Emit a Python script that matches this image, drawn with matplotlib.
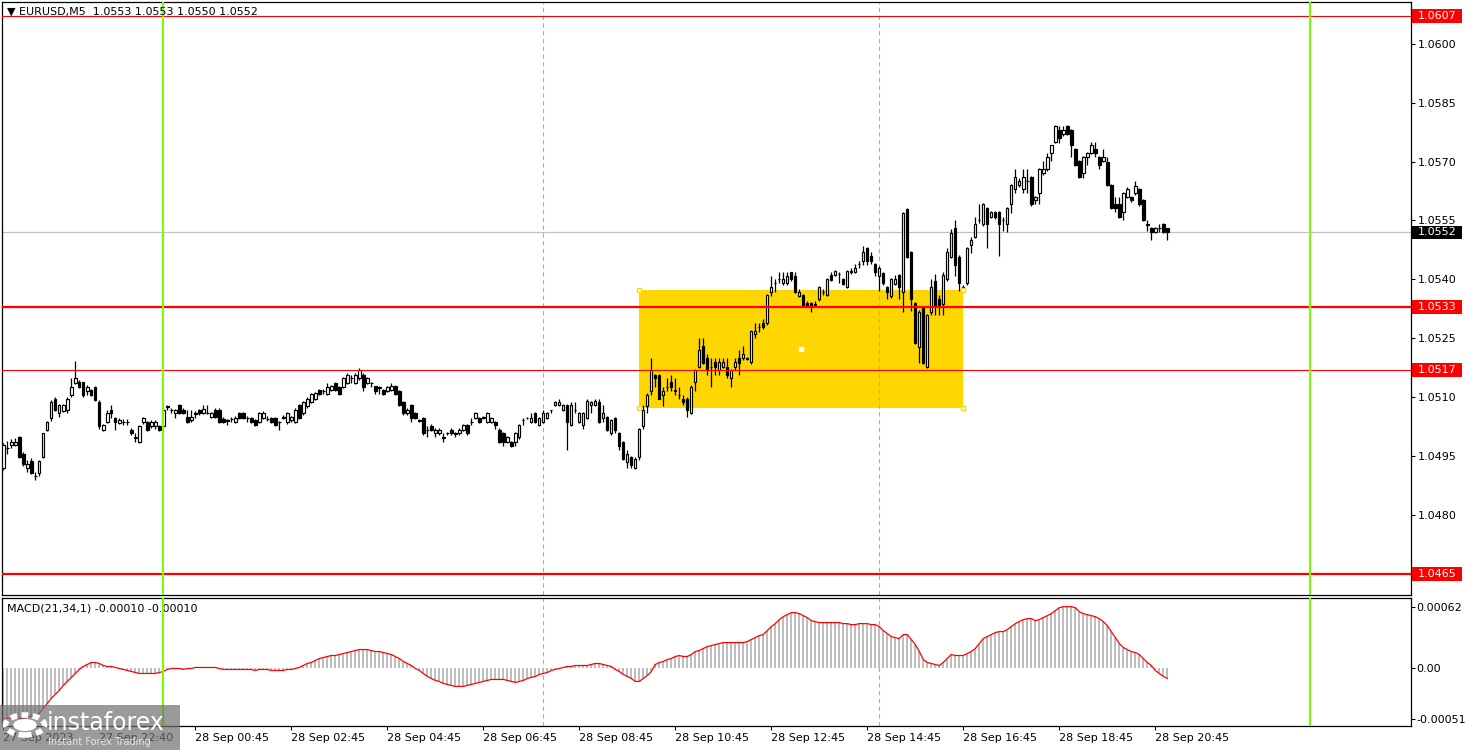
import matplotlib
matplotlib.use("Agg")
import matplotlib.pyplot as plt
import numpy as np
from matplotlib.patches import Rectangle, Circle

plt.rcParams['font.family'] = ['DejaVu Sans']

# EURUSD M5 candles, values in pips above 1.0400
BASE = 1.0400
opens = [
    91.9, 97.0, 97.8, 97.8, 99.8, 95.7, 91.9, 93.8, 90.0, 90.8,
    94.7, 101.8, 104.8, 109.7, 105.9, 106.5, 106.7, 110.5, 113.7, 114.0,
    113.8, 111.6, 111.8, 112.6, 108.8, 101.8, 103.7, 106.9, 104.8, 103.5,
    103.7, 103.8, 101.8, 99.8, 98.7, 103.7, 103.7, 102.6, 102.6, 102.6,
    102.6, 107.6, 106.9, 106.0, 108.0, 106.9, 105.0, 104.2, 105.9, 106.7,
    106.0, 106.0, 105.0, 106.9, 106.9, 104.6, 104.2, 104.6, 103.7, 106.0,
    106.0, 104.8, 104.8, 104.2, 103.7, 104.8, 104.5, 104.8, 104.8, 103.7,
    104.8, 103.7, 104.2, 103.7, 108.0, 105.9, 107.7, 108.8, 109.7, 111.8,
    111.6, 110.8, 111.8, 113.7, 112.6, 112.6, 113.7, 114.8, 113.7, 114.8,
    115.8, 113.7, 113.7, 112.8, 112.6, 111.8, 111.6, 111.8, 112.8, 111.6,
    108.8, 105.9, 108.0, 105.9, 104.2, 104.8, 101.8, 102.8, 100.8, 100.8,
    99.8, 100.8, 101.8, 100.8, 100.8, 101.8, 102.9, 103.7, 104.8, 104.8,
    104.8, 103.7, 103.7, 103.7, 101.8, 100.8, 98.7, 98.7, 98.7, 99.8,
    104.2, 104.8, 103.7, 105.9, 102.9, 103.7, 104.8, 106.7, 108.0, 108.0,
    106.9, 108.0, 102.9, 106.9, 103.7, 102.9, 104.8, 108.0, 108.0, 108.8,
    104.8, 105.0, 100.8, 104.8, 100.8, 98.7, 93.6, 94.8, 91.9, 94.7,
    102.8, 107.9, 111.7, 115.8, 115.8, 110.7, 112.6, 113.8, 111.8, 110.7,
    109.7, 109.7, 105.9, 113.8, 117.8, 123.0, 119.9, 117.8, 118.9, 116.9,
    117.8, 117.8, 114.8, 117.8, 119.9, 119.9, 119.9, 118.9, 126.0, 128.0,
    128.8, 128.8, 136.9, 139.0, 140.0, 139.0, 139.0, 141.9, 141.0, 135.8,
    136.0, 133.9, 133.9, 133.6, 134.9, 136.7, 136.0, 141.1, 141.1, 141.5,
    140.0, 138.0, 142.1, 141.9, 143.9, 144.7, 147.9, 145.9, 143.9, 140.8,
    141.7, 138.0, 135.7, 138.8, 141.1, 136.9, 158.0, 147.0, 133.9, 122.9,
    132.9, 117.8, 131.8, 139.5, 134.9, 133.7, 140.0, 145.8, 153.0, 145.8,
    137.5, 139.0, 148.8, 150.9, 155.1, 154.0, 158.1, 156.0, 157.1, 157.1,
    155.1, 154.0, 159.1, 162.9, 164.1, 162.9, 165.0, 166.0, 160.1, 161.9,
    167.0, 168.0, 172.1, 175.0, 178.0, 177.0, 179.0, 178.0, 173.1, 170.1,
    167.0, 171.2, 172.1, 173.1, 171.1, 170.1, 170.0, 164.0, 159.1, 159.1,
    157.1, 161.1, 160.9, 161.9, 162.9, 160.1, 154.0, 153.0, 152.0, 153.0,
    154.0, 153.0]
highs = [
    98.5, 99.0, 99.5, 99.7, 100.2, 96.0, 94.0, 94.5, 91.0, 94.0,
    101.0, 104.0, 109.2, 110.0, 108.3, 108.3, 110.0, 114.8, 119.2, 114.3,
    114.0, 113.2, 112.0, 113.0, 109.2, 103.2, 106.7, 108.0, 105.0, 104.8,
    104.5, 104.5, 102.2, 100.8, 102.9, 104.9, 104.0, 104.2, 104.2, 103.0,
    107.2, 108.0, 107.3, 107.0, 108.3, 107.2, 106.7, 106.7, 106.5, 107.0,
    108.0, 108.0, 106.2, 107.2, 107.2, 104.9, 104.6, 105.0, 105.2, 106.2,
    106.2, 105.2, 105.0, 104.4, 106.2, 106.5, 105.2, 105.0, 105.0, 104.0,
    105.4, 106.2, 105.3, 107.2, 108.3, 109.1, 110.0, 111.0, 111.4, 112.0,
    112.0, 113.7, 113.2, 114.0, 112.9, 115.1, 116.1, 115.8, 116.1, 117.5,
    116.1, 115.1, 114.0, 113.0, 112.9, 112.0, 112.9, 113.7, 113.1, 111.9,
    109.1, 107.2, 108.3, 106.2, 104.6, 105.1, 102.6, 103.1, 102.1, 102.1,
    100.8, 101.2, 102.1, 101.1, 102.1, 103.2, 103.2, 104.8, 106.2, 105.1,
    105.2, 106.2, 105.1, 104.0, 102.1, 101.1, 100.1, 99.0, 101.1, 103.2,
    104.8, 105.1, 105.9, 106.2, 105.1, 106.9, 106.2, 106.9, 109.1, 109.5,
    108.3, 108.3, 108.8, 108.8, 106.2, 106.2, 109.7, 109.1, 109.7, 109.7,
    108.0, 105.3, 104.5, 105.1, 101.1, 99.0, 96.7, 95.1, 94.7, 102.2,
    108.0, 111.0, 119.9, 116.0, 116.0, 112.7, 114.8, 115.8, 114.8, 112.7,
    110.7, 110.2, 113.2, 117.2, 125.0, 125.0, 121.0, 119.9, 119.9, 119.9,
    119.9, 119.9, 117.2, 119.9, 122.0, 123.0, 120.2, 127.1, 128.8, 128.8,
    130.0, 136.3, 141.0, 140.0, 141.9, 141.9, 141.9, 142.0, 141.9, 137.5,
    136.3, 134.4, 134.2, 134.4, 138.3, 137.5, 140.3, 141.9, 142.4, 142.0,
    140.3, 142.4, 143.0, 143.9, 144.7, 148.5, 148.2, 147.0, 144.2, 143.3,
    142.0, 138.3, 140.3, 141.2, 141.4, 157.2, 158.3, 147.3, 134.2, 132.1,
    133.2, 131.2, 140.0, 141.5, 136.0, 142.0, 148.0, 152.8, 155.0, 146.1,
    138.5, 148.2, 150.9, 156.0, 159.1, 159.4, 158.4, 157.4, 157.4, 157.4,
    156.0, 158.4, 164.3, 168.0, 165.9, 168.0, 168.0, 166.3, 161.2, 168.3,
    170.1, 172.1, 174.2, 179.3, 179.0, 179.0, 179.3, 178.3, 173.4, 170.4,
    171.4, 172.4, 175.0, 175.0, 171.4, 173.1, 171.1, 164.3, 161.1, 161.1,
    162.2, 163.4, 161.2, 165.0, 163.2, 160.4, 155.1, 153.3, 153.4, 154.0,
    154.3, 153.0]
lows = [
    91.5, 95.7, 97.0, 97.5, 94.5, 92.5, 91.0, 90.5, 88.9, 89.9,
    94.5, 101.5, 104.0, 106.5, 105.0, 106.2, 106.0, 110.2, 113.5, 112.3,
    110.2, 110.5, 110.4, 109.0, 102.0, 101.5, 103.5, 104.8, 101.8, 103.2,
    102.9, 103.0, 100.5, 98.7, 98.5, 103.3, 101.5, 102.3, 102.0, 101.5,
    102.4, 106.7, 106.0, 104.8, 105.8, 105.8, 103.5, 103.7, 104.8, 105.6,
    105.8, 105.8, 104.7, 104.8, 103.5, 103.4, 102.9, 103.8, 103.5, 104.6,
    104.5, 103.7, 103.4, 102.6, 103.5, 104.5, 104.0, 103.4, 102.6, 101.8,
    104.4, 103.3, 103.7, 103.5, 104.5, 105.6, 107.4, 108.5, 109.4, 110.5,
    110.8, 110.5, 111.5, 111.5, 110.5, 112.3, 113.4, 113.7, 113.4, 114.5,
    111.6, 113.4, 112.6, 110.8, 110.8, 110.5, 111.3, 111.5, 110.5, 107.7,
    105.6, 105.6, 103.7, 104.5, 103.8, 100.5, 99.8, 101.5, 99.8, 100.5,
    98.7, 100.5, 100.5, 99.8, 100.5, 101.5, 100.5, 102.9, 104.5, 103.4,
    104.5, 103.4, 103.4, 102.0, 98.4, 97.6, 98.4, 97.3, 97.6, 99.5,
    102.9, 104.5, 103.4, 103.4, 102.6, 103.4, 104.5, 105.9, 107.7, 107.7,
    106.6, 96.7, 102.6, 105.9, 103.4, 102.0, 104.5, 105.9, 107.7, 103.4,
    103.7, 101.5, 100.5, 100.8, 96.7, 94.1, 91.9, 92.0, 91.7, 94.0,
    102.0, 105.9, 110.7, 112.7, 109.5, 107.9, 111.7, 111.7, 110.7, 109.7,
    108.0, 104.9, 105.7, 111.7, 117.5, 118.5, 115.8, 112.7, 115.8, 115.8,
    117.5, 114.8, 112.7, 116.9, 115.8, 119.6, 119.5, 118.6, 125.0, 126.7,
    127.5, 128.5, 135.8, 136.9, 139.0, 138.7, 138.7, 139.7, 136.6, 135.5,
    132.9, 132.9, 131.8, 133.0, 134.6, 136.0, 135.7, 139.6, 140.8, 139.0,
    138.5, 137.7, 141.5, 141.6, 143.0, 143.6, 143.6, 143.9, 141.0, 137.0,
    138.7, 134.9, 135.4, 138.5, 135.0, 131.8, 145.5, 132.0, 123.6, 118.7,
    118.5, 117.5, 131.0, 131.0, 131.0, 131.0, 139.7, 145.5, 141.0, 137.0,
    137.2, 138.7, 146.7, 150.6, 154.3, 153.7, 147.9, 155.7, 155.5, 146.0,
    152.2, 152.0, 157.0, 161.9, 163.5, 161.9, 161.9, 158.8, 159.1, 159.1,
    166.7, 167.7, 170.1, 174.7, 174.7, 176.5, 176.7, 171.2, 168.8, 165.7,
    165.7, 169.1, 171.8, 171.2, 168.0, 169.8, 163.7, 157.8, 157.1, 155.7,
    155.1, 160.8, 159.8, 161.6, 158.8, 154.8, 152.2, 150.0, 151.7, 152.0,
    151.7, 150.0]
closes = [
    97.8, 97.2, 98.7, 98.7, 94.8, 93.0, 93.0, 90.8, 90.0, 93.8,
    100.8, 103.7, 108.8, 106.7, 108.0, 108.0, 109.7, 112.6, 114.8, 112.6,
    110.5, 112.6, 110.7, 109.4, 102.6, 102.9, 106.0, 106.0, 103.7, 104.2,
    103.8, 103.7, 100.8, 99.7, 102.6, 104.8, 101.8, 103.7, 103.7, 101.8,
    106.9, 107.7, 106.8, 106.7, 106.0, 106.0, 103.7, 105.0, 105.8, 105.9,
    107.1, 106.1, 106.0, 105.0, 103.7, 103.7, 104.1, 104.5, 104.8, 104.8,
    104.8, 104.7, 103.7, 102.9, 105.9, 106.0, 104.6, 103.7, 102.9, 103.6,
    104.9, 105.9, 105.0, 106.9, 104.8, 108.8, 109.7, 110.8, 111.0, 110.8,
    111.7, 112.6, 112.8, 111.8, 110.8, 114.8, 115.8, 114.9, 115.8, 116.9,
    112.6, 114.8, 113.6, 111.6, 112.5, 110.8, 112.6, 112.8, 110.8, 108.0,
    105.9, 106.9, 104.8, 104.8, 104.1, 100.8, 101.7, 101.8, 101.8, 101.8,
    99.7, 100.9, 100.8, 100.7, 101.8, 102.9, 100.8, 103.8, 105.9, 103.7,
    104.9, 105.9, 104.8, 102.9, 98.7, 98.7, 99.8, 97.6, 100.8, 102.9,
    104.3, 104.7, 104.8, 103.7, 104.8, 105.9, 105.9, 106.8, 108.8, 108.8,
    108.0, 103.7, 108.0, 106.8, 105.9, 105.9, 109.0, 108.8, 109.0, 103.7,
    106.0, 101.8, 104.2, 101.8, 97.6, 94.4, 95.7, 92.7, 94.4, 101.9,
    106.9, 110.7, 116.9, 114.8, 109.7, 111.7, 112.7, 112.7, 111.7, 110.6,
    108.9, 106.9, 112.7, 116.9, 122.0, 118.8, 116.9, 117.7, 117.8, 118.9,
    118.9, 115.8, 116.9, 118.9, 118.8, 120.9, 119.8, 126.8, 126.8, 127.9,
    127.8, 136.0, 138.0, 139.1, 140.1, 140.0, 141.0, 140.0, 136.9, 136.9,
    133.2, 133.2, 133.0, 133.7, 138.0, 136.9, 140.0, 139.9, 142.1, 141.4,
    138.8, 142.1, 142.0, 143.0, 144.0, 146.9, 144.7, 144.7, 141.9, 143.0,
    139.0, 136.9, 140.0, 140.0, 138.0, 156.9, 145.8, 134.9, 123.9, 131.8,
    118.8, 130.9, 138.0, 133.5, 133.5, 141.1, 146.9, 151.9, 143.6, 139.0,
    138.2, 147.9, 150.1, 154.0, 155.2, 159.1, 154.0, 157.1, 156.0, 154.0,
    155.2, 158.1, 164.0, 166.0, 165.0, 166.0, 165.1, 159.1, 160.9, 168.0,
    168.0, 171.2, 174.2, 179.0, 176.1, 178.0, 177.0, 174.2, 169.1, 166.0,
    171.1, 172.1, 174.2, 172.1, 169.1, 171.1, 164.0, 158.1, 158.1, 156.0,
    161.9, 162.9, 160.1, 163.9, 159.1, 155.1, 153.9, 152.0, 153.0, 153.1,
    152.0, 152.0]

# MACD(21,34,1) main line, units of 0.00001
macd = [
    -51, -50, -50, -50, -50, -50, -49, -48, -47, -45,
    -40, -35, -30, -26, -22, -17, -13, -9, -5, -1,
    2, 4, 6, 6, 5, 3, 2, 2, 1, 0,
    -1, -2, -3, -4, -5, -5, -5, -5, -5, -4,
    -3, -1, 0, 0, 0, -1, 0, 0, 1, 1,
    1, 1, 1, 1, 0, -1, -1, -1, -1, -1,
    -1, -1, -1, -2, -1, -1, -1, -2, -2, -2,
    -2, -1, -1, 0, 1, 3, 5, 6, 8, 10,
    11, 12, 13, 13, 14, 15, 16, 17, 18, 19,
    19, 19, 18, 17, 17, 16, 15, 14, 12, 10,
    7, 5, 3, 0, -2, -5, -8, -10, -12, -13,
    -15, -16, -17, -18, -18, -18, -17, -16, -15, -14,
    -13, -12, -11, -11, -11, -11, -12, -13, -14, -13,
    -12, -10, -9, -8, -6, -5, -4, -2, -1, 0,
    1, 2, 2, 3, 3, 3, 3, 4, 5, 5,
    4, 3, 2, -1, -3, -6, -8, -10, -13, -13,
    -10, -7, -3, 4, 6, 7, 9, 10, 12, 13,
    12, 12, 14, 17, 18, 20, 22, 23, 24, 25,
    26, 26, 26, 26, 26, 26, 27, 29, 31, 33,
    34, 38, 42, 45, 49, 52, 54, 56, 56, 55,
    53, 51, 48, 47, 46, 46, 46, 46, 46, 46,
    45, 45, 44, 44, 45, 45, 45, 44, 44, 42,
    38, 35, 32, 31, 30, 34, 34, 29, 24, 17,
    9, 6, 5, 4, 3, 6, 10, 14, 13, 13,
    13, 15, 17, 20, 25, 30, 32, 34, 36, 37,
    37, 39, 42, 45, 47, 49, 50, 50, 48, 49,
    51, 53, 55, 58, 61, 62, 62, 62, 61, 57,
    55, 54, 53, 52, 50, 47, 43, 37, 31, 25,
    21, 19, 17, 16, 14, 10, 6, 3, -2, -5,
    -8, -10]

time_ticks = [0, 24, 48, 72, 96, 120, 144, 168, 192, 216, 240, 264, 288]
time_labels = ['27 Sep 2023', '27 Sep 22:40', '28 Sep 00:45', '28 Sep 02:45',
               '28 Sep 04:45', '28 Sep 06:45', '28 Sep 08:45', '28 Sep 10:45',
               '28 Sep 12:45', '28 Sep 14:45', '28 Sep 16:45', '28 Sep 18:45',
               '28 Sep 20:45']
price_ticks = [1.0480, 1.0495, 1.0510, 1.0525, 1.0540, 1.0555, 1.0570, 1.0585, 1.0600]
levels = [1.0607, 1.0533, 1.0517, 1.0465]
level_width = [0.8, 1.6, 0.8, 1.6]
last_price = 1.0552
zone_bars = [159, 240]
zone_prices = [1.05072, 1.05372]
day_lines = [40, 326.7]
session_lines = [135, 219]
macd_ticks = [0.00062, 0.0, -0.00051]
macd_tick_labels = ['0.00062', '0.00', '-0.00051']

W, H = 1468, 750
fig = plt.figure(figsize=(W / 100, H / 100), dpi=100)
fig.patch.set_facecolor('white')
ax = fig.add_axes([2 / W, 1 - 595 / H, 1409 / W, 593 / H])
axm = fig.add_axes([2 / W, 1 - 726 / H, 1409 / W, 128 / H])

o = BASE + np.array(opens) / 1e4
h = BASE + np.array(highs) / 1e4
l = BASE + np.array(lows) / 1e4
c = BASE + np.array(closes) / 1e4
x = np.arange(len(o))
up = c >= o

# candles
ax.vlines(x, l, h, color='black', lw=0.9, zorder=3)
ax.bar(x[up], np.maximum(c - o, 1e-5)[up], bottom=o[up], width=0.6,
       facecolor='white', edgecolor='black', linewidth=0.85, zorder=3.5)
ax.bar(x[~up], (o - c)[~up], bottom=c[~up], width=0.6,
       facecolor='black', edgecolor='black', linewidth=0.85, zorder=3.5)

# yellow zone
ax.add_patch(Rectangle((zone_bars[0], zone_prices[0]), zone_bars[1] - zone_bars[0],
                       zone_prices[1] - zone_prices[0], facecolor='#FFD700',
                       edgecolor='none', zorder=1))
cx = [zone_bars[0], zone_bars[0], zone_bars[1], zone_bars[1]]
cy = [zone_prices[0], zone_prices[1], zone_prices[0], zone_prices[1]]
ax.plot(cx, cy, 's', ms=3.5, mfc='white', mec='#FFD700', mew=1, zorder=5)
ax.plot([np.mean(zone_bars)], [np.mean(zone_prices)], 's', ms=2.5, mfc='white',
        mec='white', zorder=5)

# horizontal levels
for lv, lw in zip(levels, level_width):
    ax.axhline(lv, color='#FF0000', lw=lw, zorder=4)
ax.axhline(last_price, color='#C0C0C0', lw=0.9, zorder=2)

# vertical lines on both panels
for a in (ax, axm):
    for d in day_lines:
        a.axvline(d, color='#7CFC00', lw=1.5, zorder=4.5)
    for s in session_lines:
        a.axvline(s, color='#9ACD32', lw=0.8, ls=(0, (4, 3)), zorder=1.5)

xlim = (-0.325, -0.325 + 1409 / 4)
ax.set_xlim(*xlim)
ax.set_ylim(1.04597, 1.06106)
ax.set_xticks([])
ax.yaxis.tick_right()
ax.set_yticks(price_ticks)
ax.set_yticklabels([f'{p:.4f}' for p in price_ticks])
ax.tick_params(axis='y', direction='out', length=3, width=0.8, pad=2,
               labelsize=8, colors='black')

# price boxes on the right
ppx = 593 / (1.06106 - 1.04597)
box_h = 13.5 / ppx
box_w = 50 / 1409
for lv in levels:
    ax.add_patch(Rectangle((1.0007, lv - box_h / 2), box_w, box_h,
                           transform=ax.get_yaxis_transform(), facecolor='#FF0000',
                           edgecolor='none', clip_on=False, zorder=6))
    ax.text(1.0045, lv, f'{lv:.4f}', transform=ax.get_yaxis_transform(), color='white',
            fontsize=8, va='center', ha='left', clip_on=False, zorder=7)
ax.add_patch(Rectangle((1.0007, last_price - box_h / 2), box_w, box_h,
                       transform=ax.get_yaxis_transform(), facecolor='black',
                       edgecolor='none', clip_on=False, zorder=6))
ax.text(1.0045, last_price, f'{last_price:.4f}', transform=ax.get_yaxis_transform(),
        color='white', fontsize=8, va='center', ha='left', clip_on=False, zorder=7)

ax.text(0.0035, 0.983, '\u25bc EURUSD,M5  1.0553 1.0553 1.0550 1.0552',
        transform=ax.transAxes, fontsize=8, va='center', ha='left', zorder=8)

# MACD panel
m = np.array(macd) / 1e5
axm.bar(x, m, width=0.55, color='#BEBEBE', zorder=2)
axm.plot(x, m, color='#FF0000', lw=0.9, zorder=3)
axm.set_xlim(*xlim)
axm.set_ylim(-0.000577, 0.000707)
axm.yaxis.tick_right()
axm.set_yticks(macd_ticks)
axm.set_yticklabels(macd_tick_labels)
axm.tick_params(axis='y', direction='out', length=3, width=0.8, pad=1, labelsize=8)
axm.set_xticks(time_ticks)
axm.set_xticklabels(time_labels)
for lbl in axm.get_xticklabels():
    lbl.set_horizontalalignment('left')
axm.tick_params(axis='x', direction='out', length=3, width=0.8, pad=2, labelsize=8)
axm.text(0.0035, 0.92, 'MACD(21,34,1) -0.00010 -0.00010', transform=axm.transAxes,
         fontsize=8, va='center', ha='left')

for a in (ax, axm):
    for sp in a.spines.values():
        sp.set_color('black')
        sp.set_linewidth(0.9)

# instaforex watermark (semi-transparent, over the first time labels)
fig.patches.append(Rectangle((0, 0), 180 / W, 45 / H, transform=fig.transFigure,
                             facecolor='#6f6f6f', edgecolor='none', alpha=0.7, zorder=10))
fig.patches.append(Circle((25 / W, 25 / H), 10 / H, transform=fig.transFigure,
                          facecolor='none', edgecolor='white', lw=4,
                          ls=(0, (1.2, 0.8)), zorder=11))
fig.patches.append(Circle((25 / W, 25 / H), 6 / H, transform=fig.transFigure,
                          facecolor='white', edgecolor='none', zorder=11))
fig.text(47 / W, 27 / H, 'instaforex', fontsize=17, color='white', va='center',
         ha='left', zorder=12)
fig.text(48 / W, 8 / H, 'Instant Forex Trading', fontsize=7, color='#e6e6e6',
         va='center', ha='left', zorder=12)

fig.savefig('out.png', dpi=100, facecolor='white')
